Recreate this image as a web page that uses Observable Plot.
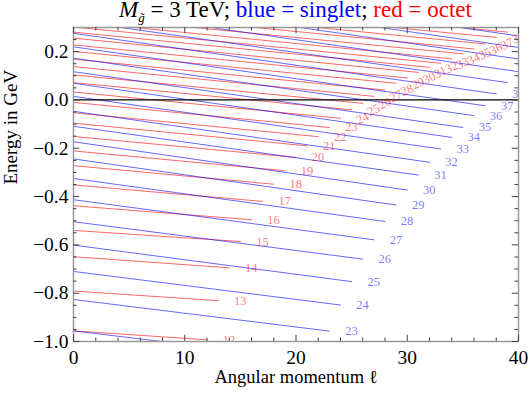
<!DOCTYPE html>
<html><head><meta charset="utf-8">
<script src="https://cdn.jsdelivr.net/npm/d3@7"></script>
<script src="https://cdn.jsdelivr.net/npm/@observablehq/plot@0.6"></script>
<style>
body{margin:0;background:#fff;}
#wrap{position:relative;width:528px;height:397px;font-family:"Liberation Serif",serif;}
#title{position:absolute;left:73px;width:445px;top:0px;height:24px;text-align:center;font-size:23px;line-height:20px;white-space:nowrap;}
#title sub{font-size:13px;vertical-align:-5px;line-height:0;}
</style></head><body>
<div id="wrap"><div id="title"><i>M</i><sub><i>g̃</i></sub> = 3 TeV; <span style="color:#00f">blue = singlet</span>; <span style="color:#f00">red = octet</span></div></div>
<script>
// Singlet (blue) levels: label n, energy at ℓ=0 and at ℓ=n (GeV)
const blueN     = [22, 23, 24, 25, 26, 27, 28, 29, 30, 31, 32, 33, 34, 35, 36, 37, 38, 39, 40, 41, 42, 43];
const blueStart = [-0.956,-0.826,-0.710,-0.601,-0.504,-0.413,-0.325,-0.244,-0.173,-0.109,-0.047,0.015,0.069,0.117,0.173,0.220,0.276,0.328,0.382,0.435,0.484,0.531];
const blueEnd   = [-1.078,-0.957,-0.849,-0.752,-0.659,-0.579,-0.503,-0.435,-0.373,-0.311,-0.258,-0.203,-0.155,-0.114,-0.065,-0.024,0.025,0.072,0.117,0.163,0.204,0.245];
// Octet (red) levels
const redN      = [12, 13, 14, 15, 16, 17, 18, 19, 20, 21, 22, 23, 24, 25, 26, 27, 28, 29, 30, 31, 32, 33, 34, 35, 36, 37, 38, 39, 40];
const redStart  = [-0.956,-0.791,-0.649,-0.540,-0.438,-0.352,-0.272,-0.211,-0.151,-0.096,-0.053,-0.010,0.033,0.072,0.104,0.138,0.169,0.201,0.228,0.256,0.281,0.302,0.325,0.349,0.374,0.399,0.428,0.457,0.486];
const redEnd    = [-0.993,-0.831,-0.695,-0.586,-0.496,-0.420,-0.349,-0.293,-0.238,-0.190,-0.152,-0.114,-0.076,-0.041,-0.014,0.015,0.041,0.069,0.091,0.114,0.135,0.152,0.170,0.191,0.211,0.232,0.259,0.281,0.302];
// Levels whose n-label is printed
const blueLabelN = [23, 24, 25, 26, 27, 28, 29, 30, 31, 32, 33, 34, 35, 36, 37, 38];
const redLabelN  = [12, 13, 14, 15, 16, 17, 18, 19, 20, 21, 22, 23, 24, 25, 26, 27, 28, 29, 30, 31, 32, 33, 34, 35, 36, 37, 38];
// Axis ticks
const xMajor = [0, 10, 20, 30, 40];
const xMinor = [2,4,6,8,12,14,16,18,22,24,26,28,32,34,36,38];
const yMajor = [-1.0,-0.8,-0.6,-0.4,-0.2,0.0,0.2];
const yMinor = [-0.95,-0.9,-0.85,-0.75,-0.7,-0.65,-0.55,-0.5,-0.45,-0.35,-0.3,-0.25,-0.15,-0.1,-0.05,0.05,0.1,0.15,0.25];
const xDomain = [0, 40], yDomain = [-1, 0.3];

function pts(N, S, E) {
  const out = [];
  N.forEach((n, i) => { out.push({n, l: 0, E: S[i]}); out.push({n, l: n, E: E[i]}); });
  return out;
}
const bluePts = pts(blueN, blueStart, blueEnd);
const redPts = pts(redN, redStart, redEnd);
const blueLab = blueLabelN.map(n => ({n, E: blueEnd[blueN.indexOf(n)]}));
const redLab = redLabelN.map(n => ({n, E: redEnd[redN.indexOf(n)]}));

const xs = xDomain[1] - xDomain[0], ys = yDomain[1] - yDomain[0];
const tickC = "#444";
const chart = Plot.plot({
  width: 528, height: 397,
  marginLeft: 73, marginRight: 10, marginTop: 27, marginBottom: 56,
  style: {fontFamily: '"Liberation Serif", serif', fontSize: "19.5px", background: "white", color: "black", overflow: "visible"},
  x: {domain: xDomain},
  y: {domain: yDomain},
  marks: [
    Plot.line(redPts, {x: "l", y: "E", z: "n", stroke: "red", strokeOpacity: 0.6, strokeWidth: 1, clip: true}),
    Plot.line(bluePts, {x: "l", y: "E", z: "n", stroke: "blue", strokeOpacity: 0.6, strokeWidth: 1, clip: true}),
    Plot.ruleY([0], {stroke: "black", strokeWidth: 1.2}),
    Plot.text(redLab, {x: "n", y: "E", text: d => String(d.n), dx: 22, fill: "red", fillOpacity: 0.55, fontSize: 12.5, clip: true, rotate: d => d.n >= 24 ? -25 : 0}),
    Plot.text(blueLab, {x: "n", y: "E", text: d => String(d.n), dx: 22, fill: "blue", fillOpacity: 0.55, fontSize: 12.5, clip: true}),
    Plot.frame({stroke: "#999", strokeWidth: 1.5}),
    // inward ticks on all four sides
    Plot.ruleX(xMajor, {x: d => d, y1: yDomain[0], y2: yDomain[0] + ys * 0.02, stroke: tickC}),
    Plot.ruleX(xMinor, {x: d => d, y1: yDomain[0], y2: yDomain[0] + ys * 0.011, stroke: tickC}),
    Plot.ruleX(xMajor, {x: d => d, y1: yDomain[1], y2: yDomain[1] - ys * 0.02, stroke: tickC}),
    Plot.ruleX(xMinor, {x: d => d, y1: yDomain[1], y2: yDomain[1] - ys * 0.011, stroke: tickC}),
    Plot.ruleY(yMajor, {y: d => d, x1: xDomain[0], x2: xDomain[0] + xs * 0.014, stroke: tickC}),
    Plot.ruleY(yMinor, {y: d => d, x1: xDomain[0], x2: xDomain[0] + xs * 0.008, stroke: tickC}),
    Plot.ruleY(yMajor, {y: d => d, x1: xDomain[1], x2: xDomain[1] - xs * 0.014, stroke: tickC}),
    Plot.ruleY(yMinor, {y: d => d, x1: xDomain[1], x2: xDomain[1] - xs * 0.008, stroke: tickC}),
    Plot.axisX({ticks: xMajor, tickSize: 0, tickPadding: 9, tickFormat: d => String(d), label: null, fontSize: 19.5}),
    Plot.axisY({ticks: yMajor, tickSize: 0, tickPadding: 5, tickFormat: d3.format(".1f"), label: null, fontSize: 19.5}),
    Plot.text(["Angular momentum ℓ"], {frameAnchor: "bottom", dy: 41, text: d => d, fontSize: 18.5}),
    Plot.text(["Energy in GeV"], {frameAnchor: "left", dx: -63, rotate: -90, text: d => d, fontSize: 19})
  ]
});
document.getElementById("wrap").appendChild(chart);
</script></body></html>
